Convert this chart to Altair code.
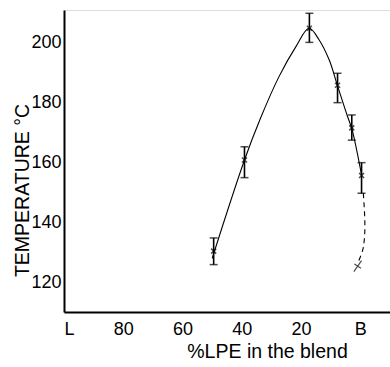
import altair as alt
import pandas as pd

# measured points (% LPE in blend, temperature)
conc = [49.5, 39.1, 17.2, 7.7, 2.9, -0.4]
temp = [130.3, 160.7, 204.6, 185.6, 171.4, 155.5]
err_low = [125.8, 154.8, 199.9, 179.8, 167.3, 149.6]
err_high = [134.7, 165.1, 209.6, 189.6, 175.7, 159.8]

# solid curve
curve_x = [50.0, 39.1, 33.7, 27.5, 21.8, 17.3, 13.9, 10.5, 7.7, 4.3, 2.9, -0.4]
curve_y = [127.9, 160.7, 174.6, 188.4, 198.4, 204.6, 200.7, 194.0, 185.4, 175.1, 171.2, 155.7]

# dashed extension
dash_x = [-1.0, -1.5, -1.4, -0.8, 0.9]
dash_y = [149.6, 140.7, 135.0, 130.7, 126.2]

# isolated cross
cross_x = [0.9]
cross_y = [125.3]

pts = pd.DataFrame({"x": conc, "y": temp, "lo": err_low, "hi": err_high})
curve = pd.DataFrame({"x": curve_x, "y": curve_y, "o": list(range(len(curve_x)))})
dash = pd.DataFrame({"x": dash_x, "y": dash_y, "o": list(range(len(dash_x)))})
cross = pd.DataFrame({"x": cross_x, "y": cross_y})

xscale = alt.Scale(domain=[-10, 100], reverse=True, nice=False, zero=False)
yscale = alt.Scale(domain=[110, 210.7], nice=False, zero=False)

xaxis = alt.Axis(
    values=[0, 20, 40, 60, 80, 100],
    labelExpr="datum.value == 100 ? 'L' : (datum.value == 0 ? 'B' : datum.label)",
    title="%LPE in the blend",
    titleX=203, titleY=39, titleBaseline="middle", titleAlign="center",
    titleFontSize=19.5, titleFontWeight="normal",
    labelFontSize=18, labelPadding=8, tickSize=0, grid=False,
    domainWidth=2, domainColor="black", labelColor="black", titleColor="black",
)
yaxis = alt.Axis(
    values=[120, 140, 160, 180, 200],
    title="TEMPERATURE °C",
    titleX=-42, titleY=180, titleBaseline="middle", titleAlign="center",
    titleFontSize=19.5, titleFontWeight="normal",
    labelFontSize=18, labelPadding=3, tickSize=0, grid=False,
    domainWidth=2, domainColor="black", labelColor="black", titleColor="black",
)

X = alt.X("x:Q", scale=xscale, axis=xaxis)
Y = alt.Y("y:Q", scale=yscale, axis=yaxis)

line = alt.Chart(curve).mark_line(
    color="black", strokeWidth=1.1, interpolate="catmull-rom"
).encode(x=X, y=Y, order="o:O")

dashed = alt.Chart(dash).mark_line(
    color="black", strokeWidth=1.1, strokeDash=[5, 4], interpolate="catmull-rom"
).encode(x=alt.X("x:Q", scale=xscale), y=alt.Y("y:Q", scale=yscale), order="o:O")

bars = alt.Chart(pts).mark_rule(color="black", strokeWidth=1.6).encode(
    x=alt.X("x:Q", scale=xscale),
    y=alt.Y("lo:Q", scale=yscale),
    y2="hi:Q",
)
cap_lo = alt.Chart(pts).mark_tick(color="black", orient="horizontal", size=8, thickness=1.5).encode(
    x=alt.X("x:Q", scale=xscale), y=alt.Y("lo:Q", scale=yscale)
)
cap_hi = alt.Chart(pts).mark_tick(color="black", orient="horizontal", size=8, thickness=1.5).encode(
    x=alt.X("x:Q", scale=xscale), y=alt.Y("hi:Q", scale=yscale)
)
marks = alt.Chart(pts).mark_point(
    shape="M-1,-1L1,1M-1,1L1,-1", size=25, filled=False, color="black", strokeWidth=1.5
).encode(x=alt.X("x:Q", scale=xscale), y=alt.Y("y:Q", scale=yscale))

xmark = alt.Chart(cross).mark_point(
    shape="M-0.7,1L0.7,-1M-0.6,-0.4L0.6,0.4", size=120, filled=False, color="black", strokeWidth=1.2
).encode(x=alt.X("x:Q", scale=xscale), y=alt.Y("y:Q", scale=yscale))

chart = alt.layer(line, dashed, bars, cap_lo, cap_hi, marks, xmark).properties(
    width=326, height=302,
    autosize=alt.AutoSizeParams(type="none"),
    padding={"left": 64, "top": 10, "right": 0, "bottom": 55},
).configure_view(stroke=None).configure(
    font="Liberation Sans"
).configure_axis(labelFont="Liberation Sans", titleFont="Liberation Sans")

chart.save("out.html", embed_options={"renderer": "svg", "actions": False})
